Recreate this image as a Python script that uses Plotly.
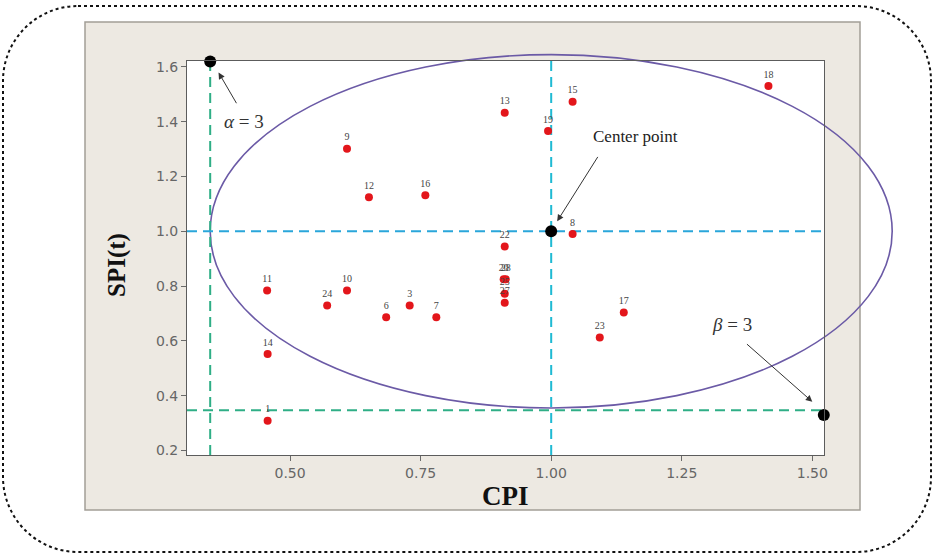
import plotly.graph_objects as go

# Activity performance indices: cost (CPI) vs. schedule (SPI(t))
point_ids = ["1", "3", "6", "7", "8", "9", "10", "11", "12", "13", "14", "15",
             "16", "17", "18", "19", "20", "22", "23", "24", "25", "27", "28"]
cpi = [0.457, 0.729, 0.684, 0.780, 1.041, 0.609, 0.609, 0.456, 0.651, 0.911, 0.457, 1.041,
       0.759, 1.139, 1.416, 0.994, 0.909, 0.911, 1.093, 0.571, 0.911, 0.911, 0.913]
spi = [0.309, 0.729, 0.686, 0.686, 0.990, 1.301, 0.784, 0.784, 1.124, 1.433, 0.552, 1.473,
       1.132, 0.704, 1.530, 1.366, 0.825, 0.945, 0.612, 0.729, 0.772, 0.739, 0.825]

# Control region: ellipse around the center point, with alpha / beta limits
center_cpi, center_spi = 1.0, 1.0
radius_cpi = 0.653
radius_spi = 0.645
limit_low = center_cpi - radius_cpi
alpha_pt = (0.347, 1.62)
beta_pt = (1.522, 0.33)

x_range = [0.3026, 1.5224]
y_range = [0.1836, 1.6216]
x_ticks = [0.50, 0.75, 1.00, 1.25, 1.50]
x_tick_text = ["0.50", "0.75", "1.00", "1.25", "1.50"]
y_ticks = [0.2, 0.4, 0.6, 0.8, 1.0, 1.2, 1.4, 1.6]
y_tick_text = ["0.2", "0.4", "0.6", "0.8", "1.0", "1.2", "1.4", "1.6"]

W, H = 934, 560
ML, MR, MT, MB = 187, 110, 61, 105
PW, PH = W - ML - MR, H - MT - MB


def paper_x(px):
    return (px - ML) / PW


def paper_y(py):
    return (MT + PH - py) / PH


def dom_x(v):
    return (v - x_range[0]) / (x_range[1] - x_range[0])


def dom_y(v):
    return (v - y_range[0]) / (y_range[1] - y_range[0])


def rounded_frame(left, top, right, bottom, rx, ry):
    k = 0.5523
    pts = [
        ("M", [(left + rx, top)]),
        ("L", [(right - rx, top)]),
        ("C", [(right - rx * (1 - k), top), (right, top + ry * (1 - k)), (right, top + ry)]),
        ("L", [(right, bottom - ry)]),
        ("C", [(right, bottom - ry * (1 - k)), (right - rx * (1 - k), bottom), (right - rx, bottom)]),
        ("L", [(left + rx, bottom)]),
        ("C", [(left + rx * (1 - k), bottom), (left, bottom - ry * (1 - k)), (left, bottom - ry)]),
        ("L", [(left, top + ry)]),
        ("C", [(left, top + ry * (1 - k)), (left + rx * (1 - k), top), (left + rx, top)]),
    ]
    out = []
    for cmd, coords in pts:
        out.append(cmd + " " + " ".join(f"{paper_x(a):.5f},{paper_y(b):.5f}" for a, b in coords))
    return " ".join(out) + " Z"


fig = go.Figure()

fig.add_trace(go.Scatter(
    x=cpi, y=spi, mode="markers+text", text=point_ids,
    textposition="top center",
    textfont=dict(family="Liberation Serif", size=10, color="#444444"),
    marker=dict(color="#e3161b", size=8),
    hoverinfo="skip", showlegend=False,
))

fig.add_trace(go.Scatter(
    x=[alpha_pt[0], center_cpi, beta_pt[0]],
    y=[alpha_pt[1], center_spi, beta_pt[1]],
    mode="markers", marker=dict(color="#000000", size=12),
    cliponaxis=False, hoverinfo="skip", showlegend=False,
))

shapes = [
    # dotted rounded outline
    dict(type="path", xref="paper", yref="paper", layer="below",
         path=rounded_frame(3, 6, 931, 552, 75, 75),
         line=dict(color="#111111", width=2, dash="dot")),
    # beige panel
    dict(type="rect", xref="paper", yref="paper", layer="below",
         x0=paper_x(85), x1=paper_x(860), y0=paper_y(510), y1=paper_y(22),
         fillcolor="#ede9e2", line=dict(color="#a29e97", width=1.5)),
    # white plotting area
    dict(type="rect", xref="paper", yref="paper", layer="below",
         x0=0, x1=1, y0=0, y1=1, fillcolor="#ffffff", line=dict(width=0)),
    # limit lines
    dict(type="line", xref="x", yref="y", layer="below",
         x0=limit_low, x1=limit_low, y0=y_range[0], y1=y_range[1],
         line=dict(color="#2fae86", width=2, dash="10px,6px")),
    dict(type="line", xref="x", yref="y", layer="below",
         x0=x_range[0], x1=x_range[1], y0=limit_low, y1=limit_low,
         line=dict(color="#2fae86", width=2, dash="10px,6px")),
    # center lines
    dict(type="line", xref="x", yref="y", layer="below",
         x0=center_cpi, x1=center_cpi, y0=y_range[0], y1=y_range[1],
         line=dict(color="#1fbad3", width=2, dash="10px,6px")),
    dict(type="line", xref="x", yref="y", layer="below",
         x0=x_range[0], x1=x_range[1], y0=center_spi, y1=center_spi,
         line=dict(color="#2aa6da", width=2, dash="10px,6px")),
    # control ellipse
    dict(type="circle", xref="x domain", yref="y domain", layer="below",
         x0=dom_x(center_cpi - radius_cpi), x1=dom_x(center_cpi + radius_cpi),
         y0=dom_y(center_spi - radius_spi), y1=dom_y(center_spi + radius_spi),
         line=dict(color="#6b5aa6", width=1.6)),
]

arrow_style = dict(showarrow=True, arrowhead=2, arrowsize=1.3, arrowwidth=1,
                   arrowcolor="#333333", xref="x", yref="y", axref="x", ayref="y",
                   text="", standoff=0, startstandoff=0)

annotations = [
    dict(x=0.363, y=1.580, ax=0.399, ay=1.462, **arrow_style),
    dict(x=1.0115, y=1.037, ax=1.091, ay=1.277, **arrow_style),
    dict(x=1.500, y=0.378, ax=1.372, ay=0.593, **arrow_style),
    dict(x=0.412, y=1.400, xref="x", yref="y", showarrow=False,
         xanchor="center", yanchor="middle",
         text="<i>α</i>\u00a0=\u00a03",
         font=dict(family="Liberation Serif", size=19, color="#333333")),
    dict(x=1.161, y=1.346, xref="x", yref="y", showarrow=False,
         xanchor="center", yanchor="middle",
         text="Center point",
         font=dict(family="Liberation Serif", size=17, color="#222222")),
    dict(x=1.347, y=0.659, xref="x", yref="y", showarrow=False,
         xanchor="center", yanchor="middle",
         text="<i>β</i>\u00a0=\u00a03",
         font=dict(family="Liberation Serif", size=19, color="#333333")),
    # axis titles
    dict(x=paper_x(117), y=paper_y(265), xref="paper", yref="paper", showarrow=False,
         xanchor="center", yanchor="middle",
         text="<b>SPI(t)</b>", textangle=-90,
         font=dict(family="Liberation Serif", size=25, color="#111111")),
    dict(x=paper_x(505), y=paper_y(496), xref="paper", yref="paper", showarrow=False,
         xanchor="center", yanchor="middle",
         text="<b>CPI</b>",
         font=dict(family="Liberation Serif", size=27, color="#111111")),
]

axis_common = dict(showgrid=False, zeroline=False, showline=True, mirror=True,
                   linecolor="#5c5c5c", linewidth=1, ticks="outside", ticklen=5,
                   tickcolor="#6a6a6a", tickfont=dict(family="DejaVu Sans", size=14, color="#666666"))

fig.update_layout(
    width=W, height=H,
    margin=dict(l=ML, r=MR, t=MT, b=MB),
    paper_bgcolor="#ffffff", plot_bgcolor="rgba(0,0,0,0)",
    xaxis=dict(range=x_range, tickvals=x_ticks, ticktext=x_tick_text, **axis_common),
    yaxis=dict(range=y_range, tickvals=y_ticks, ticktext=y_tick_text, **axis_common),
    shapes=shapes, annotations=annotations,
    showlegend=False,
)

fig.write_html("out.html")
